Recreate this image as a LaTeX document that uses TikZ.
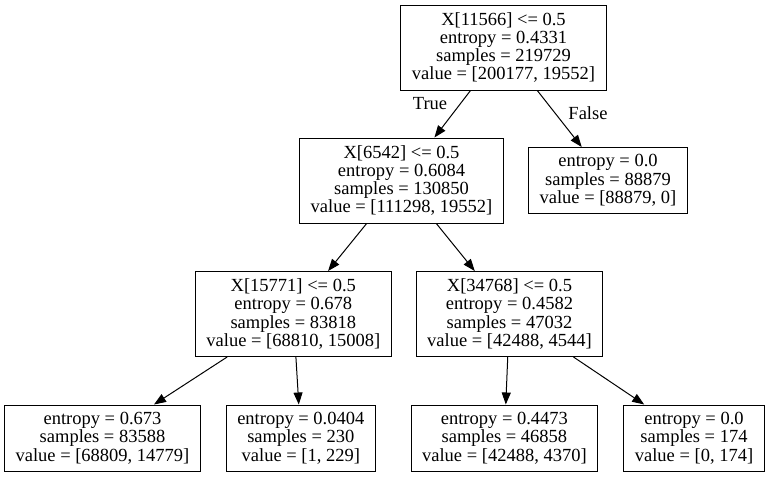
\documentclass[tikz,border=0pt]{standalone}
\usepackage{fontspec}
\setmainfont{Liberation Serif}
\usepackage{tikz}
\usetikzlibrary{arrows.meta,positioning}

\tikzset{
  split/.style={draw, line width=1pt, align=center, minimum height=85pt, inner xsep=11pt},
  leaf/.style={draw, line width=1pt, align=center, minimum height=66pt, inner xsep=11pt},
  edge/.style={line width=1pt, -{Triangle[length=12pt,width=9pt]}}
}

\begin{document}
\begin{tikzpicture}[x=1pt, y=-1pt, font=\fontsize{18.5}{18.3}\selectfont]
  \useasboundingbox (0,0) rectangle (767,477);
  \node [split] (root) at (503.5,47.5) {X[11566] <= 0.5\\entropy = 0.4331\\samples = 219729\\value = [200177, 19552]};
  \node [split] (n1) at (401.5,180.5) {X[6542] <= 0.5\\entropy = 0.6084\\samples = 130850\\value = [111298, 19552]};
  \node [leaf] (r1) at (608,180.5) {entropy = 0.0\\samples = 88879\\value = [88879, 0]};
  \node [split] (n2) at (293.3,314) {X[15771] <= 0.5\\entropy = 0.678\\samples = 83818\\value = [68810, 15008]};
  \node [split] (n3) at (509.5,314) {X[34768] <= 0.5\\entropy = 0.4582\\samples = 47032\\value = [42488, 4544]};
  \node [leaf] (l1) at (102.5,438) {entropy = 0.673\\samples = 83588\\value = [68809, 14779]};
  \node [leaf] (l2) at (300.8,438) {entropy = 0.0404\\samples = 230\\value = [1, 229]};
  \node [leaf] (l3) at (504.4,438) {entropy = 0.4473\\samples = 46858\\value = [42488, 4370]};
  \node [leaf] (l4) at (694,438) {entropy = 0.0\\samples = 174\\value = [0, 174]};
  \node (yes) at (430,104) {True};
  \node (no) at (588,113) {False};
  \draw [edge] (root) -- (n1);
  \draw [edge] (root) -- (r1);
  \draw [edge] (n1) -- (n2);
  \draw [edge] (n1) -- (n3);
  \draw [edge] (n2) -- (l1);
  \draw [edge] (n2) -- (l2);
  \draw [edge] (n3) -- (l3);
  \draw [edge] (n3) -- (l4);
\end{tikzpicture}
\end{document}
